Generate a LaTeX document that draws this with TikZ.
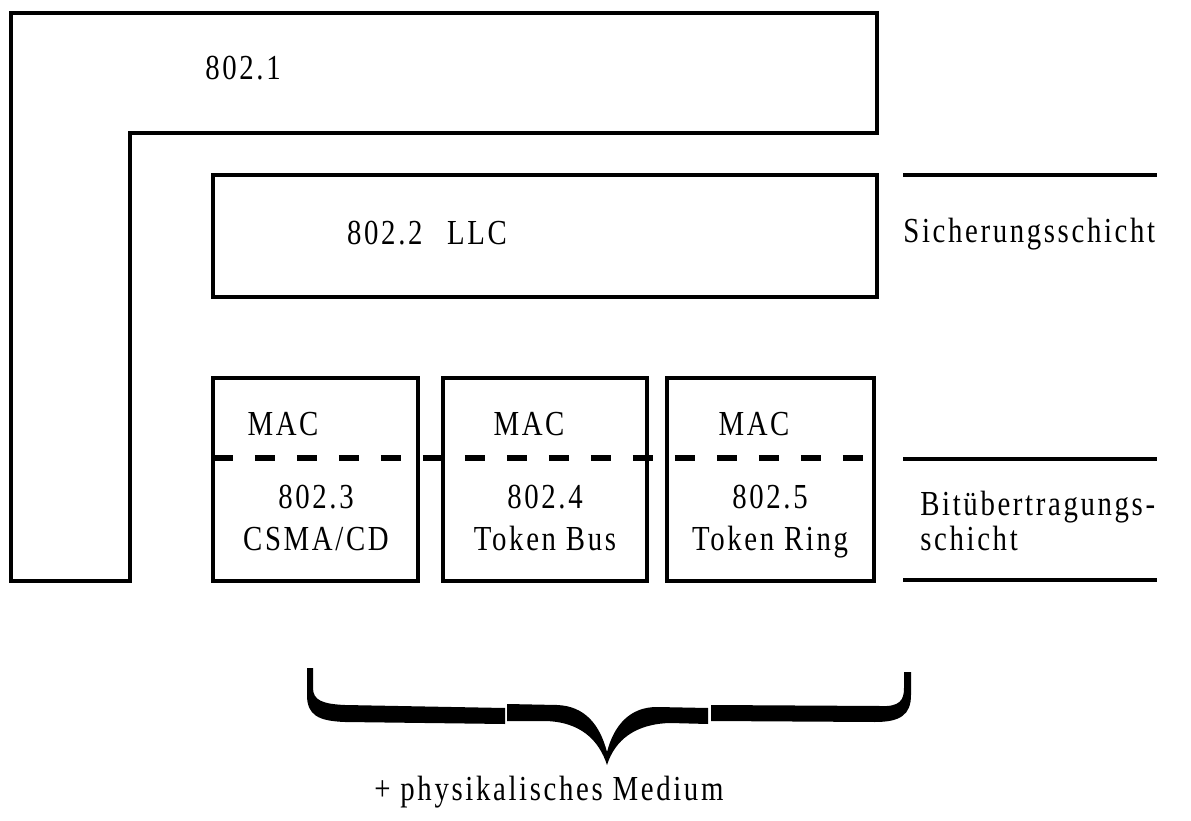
\documentclass[tikz,border=0pt]{standalone}
\usepackage{fontspec}
\setmainfont{Liberation Serif}[FakeStretch=0.82,LetterSpace=7.5]

\begin{document}
\begin{tikzpicture}[x=0.02cm,y=-0.02cm,
		frame/.style={line width=0.08cm,line join=miter},
		sep/.style={line width=0.11cm,dash pattern=on 0.4cm off 0.44cm},
		lbl/.style={inner sep=0pt,anchor=base,font=\fontsize{20}{24}\selectfont}]
		\useasboundingbox (0,0) rectangle (1191,821);
		% 802.1 frame
		\draw[frame] (11,13) -- (877,13) -- (877,133) -- (130,133) -- (130,581) -- (11,581) -- cycle;
		\node[lbl] (n8021) at (243,80) {802.1};
		% LLC
		\draw[frame] (213,175) rectangle (877,297);
		\node[lbl] (n8022) at (427,244) {802.2\hspace{0.7em}LLC};
		% MAC boxes
		\draw[frame] (213,378) rectangle (418,581);
		\draw[frame] (443,378) rectangle (647,581);
		\draw[frame] (667,378) rectangle (874,581);
		\draw[sep] (213,458) -- (877,458);
		\node[lbl] (mac1) at (283,435) {MAC};
		\node[lbl] (mac2) at (529,435) {MAC};
		\node[lbl] (mac3) at (754,435) {MAC};
		\node[lbl] (n8023) at (316,508) {802.3};
		\node[lbl] (csma) at (316,550) {CSMA/CD};
		\node[lbl] (n8024) at (545,508) {802.4};
		\node[lbl] (tbus) at (545,550) {Token Bus};
		\node[lbl] (n8025) at (770,508) {802.5};
		\node[lbl] (tring) at (770,550) {Token Ring};
		% layer lines
		\draw[frame] (903,175) -- (1157,175);
		\draw[frame] (903,459) -- (1157,459);
		\draw[frame] (903,580) -- (1157,580);
		\node[lbl,anchor=base west] (sich) at (903,242) {Sicherungsschicht};
		\node[lbl,anchor=base west] (bit) at (920,515) {Bitübertragungs-};
		\node[lbl,anchor=base west] (schicht) at (920,550) {schicht};
		% brace
		\fill (307,668) -- (307,695) .. controls (307,715) and (318,721) .. (345,722) -- (505,724) -- (505,708) -- (345,705) .. controls (322,704) and (313,700) .. (313,688) -- (313,668) -- cycle;
		\fill (507,704) -- (557,705) .. controls (585,706) and (600,725) .. (607,752) .. controls (614,725) and (630,707) .. (657,707) -- (708,708) -- (708,724) -- (670,723) .. controls (635,724) and (615,740) .. (607,765) .. controls (599,740) and (580,721) .. (543,721) -- (507,721) -- cycle;
		\fill (711,705) -- (880,706) .. controls (900,707) and (904,700) .. (904,688) -- (904,672) -- (911,672) -- (911,695) .. controls (911,715) and (900,722) .. (875,722) -- (711,721) -- cycle;
		\node[lbl,anchor=base west] (medium) at (374,800) {+ physikalisches Medium};
	\end{tikzpicture}
\end{document}
